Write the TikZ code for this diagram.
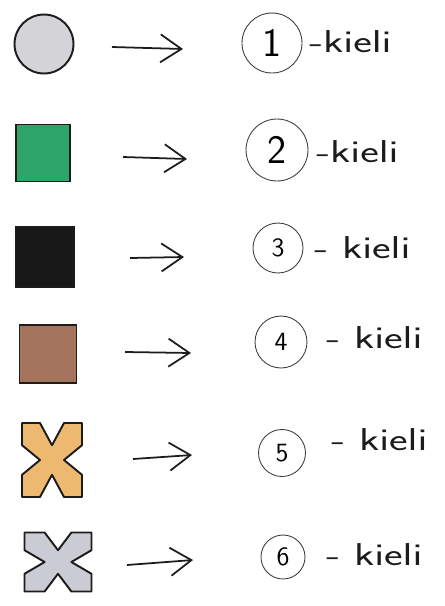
\documentclass[tikz,border=0pt]{standalone}
\usepackage{graphicx}
\usepackage{tikz}
\usetikzlibrary{positioning,arrows.meta}
\definecolor{ink}{HTML}{1C1C1C}
\definecolor{pebble}{HTML}{D3D3D8}
\definecolor{leaf}{HTML}{2DA56A}
\definecolor{coal}{HTML}{181818}
\definecolor{bark}{HTML}{A4745C}
\definecolor{sand}{HTML}{EDB970}
\definecolor{slate}{HTML}{CBCCD3}
\newcommand{\crosspatch}[4]{%
  \draw[draw=ink,line width=1.1pt,line join=round,fill=#4,shift={(#1)},x=#2,y=#3]
    (-1,1) -- (-0.4,1) -- (0,0.4) -- (0.4,1) -- (1,1) -- (1,0.4) -- (0.4,0)
    -- (1,-0.4) -- (1,-1) -- (0.4,-1) -- (0,-0.4) -- (-0.4,-1) -- (-1,-1)
    -- (-1,-0.4) -- (-0.4,0) -- (-1,0.4) -- cycle;}
\newcommand{\kieli}[1]{\scalebox{1.4}[1]{#1}}

\begin{document}
\begin{tikzpicture}[
    x=0.02cm,y=-0.02cm,
    swatch/.style={draw=ink,line width=1.1pt,inner sep=0pt},
    numring/.style={draw=ink!85,circle,line width=0.5pt,inner sep=0pt,
                    font=\sffamily\fontsize{15}{15}\selectfont},
    link/.style={-{Straight Barb[length=4.2mm,width=5.6mm]},line width=1pt,draw=ink},
    lbl/.style={anchor=base west,inner sep=0pt,text=ink,
                font=\sffamily\fontsize{18}{18}\selectfont}
  ]
  \useasboundingbox (0,0) rectangle (444,606);

  % row 1
  \node[swatch,circle,fill=pebble,minimum size=1.18cm] (s1) at (44,44) {};
  \coordinate (a1) at (112,47);
  \coordinate (b1) at (183,49);
  \node[numring,minimum size=1.2cm,font=\sffamily\fontsize{23}{23}\selectfont] (n1) at (272,43) {1};
  \node[lbl] (t1) at (309,52) {\kieli{-kieli}};

  % row 2
  \node[swatch,fill=leaf,minimum width=1.08cm,minimum height=1.14cm] (s2) at (43,153) {};
  \coordinate (a2) at (123,157);
  \coordinate (b2) at (187,159);
  \node[numring,minimum size=1.24cm,font=\sffamily\fontsize{23}{23}\selectfont] (n2) at (277,150) {2};
  \node[lbl] (t2) at (316,162) {\kieli{-kieli}};

  % row 3
  \node[swatch,fill=coal,minimum width=1.18cm,minimum height=1.2cm] (s3) at (45,257) {};
  \coordinate (a3) at (130,258);
  \coordinate (b3) at (184,257);
  \node[numring,minimum size=1.0cm] (n3) at (278,248) {3};
  \node[lbl] (t3) at (314,258) {\kieli{- kieli}};

  % row 4
  \node[swatch,fill=bark,minimum width=1.14cm,minimum height=1.16cm] (s4) at (48,354) {};
  \coordinate (a4) at (125,352);
  \coordinate (b4) at (191,353);
  \node[numring,minimum size=1.04cm] (n4) at (281,342) {4};
  \node[lbl] (t4) at (326,348) {\kieli{- kieli}};

  % row 5
  \coordinate (s5) at (52,460);
  \crosspatch{s5}{0.6cm}{0.74cm}{sand}
  \coordinate (a5) at (133,459);
  \coordinate (b5) at (192,455);
  \node[numring,minimum size=0.94cm] (n5) at (282,453) {5};
  \node[lbl] (t5) at (331,450) {\kieli{- kieli}};

  % row 6
  \coordinate (s6) at (58,562);
  \crosspatch{s6}{0.67cm}{0.59cm}{slate}
  \coordinate (a6) at (127,565);
  \coordinate (b6) at (193,560);
  \node[numring,minimum size=0.88cm] (n6) at (283,557) {6};
  \node[lbl] (t6) at (326,565) {\kieli{- kieli}};

  % arrows
  \draw[link] (a1) -- (b1);
  \draw[link] (a2) -- (b2);
  \draw[link] (a3) -- (b3);
  \draw[link] (a4) -- (b4);
  \draw[link] (a5) -- (b5);
  \draw[link] (a6) -- (b6);

\end{tikzpicture}
\end{document}
